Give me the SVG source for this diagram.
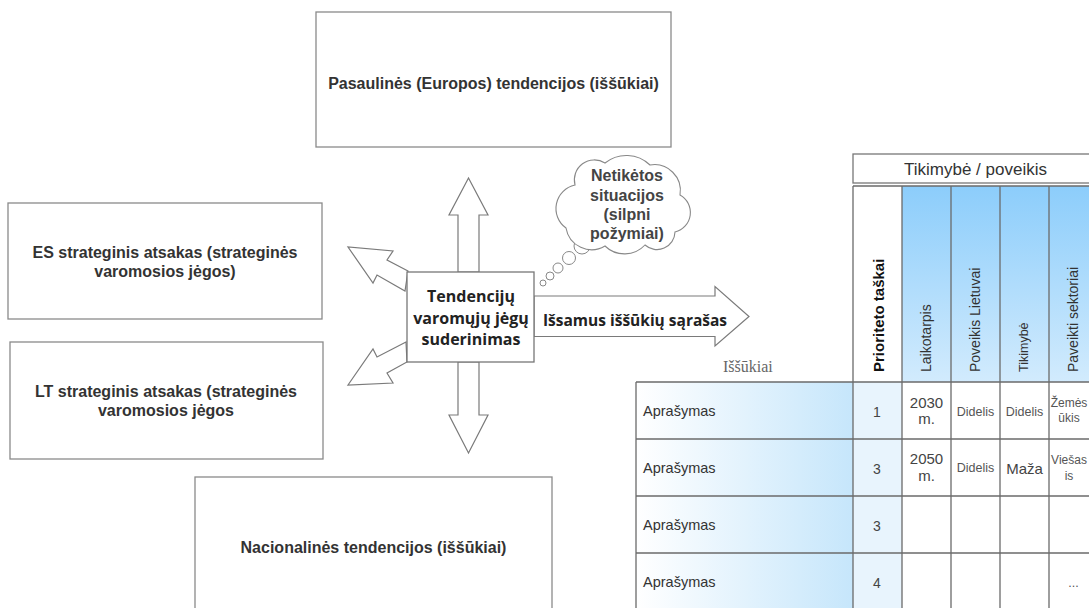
<svg xmlns="http://www.w3.org/2000/svg" width="1089" height="608" viewBox="0 0 1089 608">
<defs>
<linearGradient id="hdrGrad" x1="0" y1="0" x2="0" y2="1">
<stop offset="0" stop-color="#8ccdfb"/>
<stop offset="1" stop-color="#d2ebfd"/>
</linearGradient>
<linearGradient id="descGrad" x1="0" y1="0" x2="1" y2="0">
<stop offset="0" stop-color="#ffffff"/>
<stop offset="1" stop-color="#c6e6fb"/>
</linearGradient>
</defs>
<style>
.box{fill:#fff;stroke:#8a8a8a;stroke-width:1.3}
.arrow{fill:#fff;stroke:#7a7a7a;stroke-width:1.2;stroke-linejoin:miter}
.bt{font-family:"Liberation Sans",Arial,sans-serif;font-weight:bold;font-size:16px;fill:#333;text-anchor:middle}
.ct{font-family:"Open Sans",sans-serif;font-weight:bold;font-size:16px;fill:#222;text-anchor:middle}
.cl{font-family:"Liberation Sans",Arial,sans-serif;font-weight:bold;font-size:16px;fill:#444;text-anchor:middle}
.tl{fill:none;stroke:#6b6b6b;stroke-width:1.3}
.vt{font-family:"Liberation Sans",Arial,sans-serif;font-size:14px;fill:#333}
.td{font-family:"Liberation Sans",Arial,sans-serif;font-size:14.5px;fill:#333}
.tc{font-family:"Liberation Sans",Arial,sans-serif;font-size:14px;fill:#444;text-anchor:middle}
.ts{font-family:"Liberation Sans",Arial,sans-serif;font-size:12.5px;fill:#555;text-anchor:middle}
</style>
<rect width="1089" height="608" fill="#fff"/>

<g id="connectors">
<polygon class="arrow" points="458,272 458,215 449,215 468.5,178 488,215 479,215 479,272"/>
<polygon class="arrow" points="458,362 458,415 449,415 468.5,453 488,415 479,415 479,362"/>
<polygon class="arrow" points="534,296 715,296 715,286.5 749,316.5 715,346 715,336.5 534,336.5"/>
<polygon class="arrow" points="408,271 387,260 393,251 348,247 373,283 377,275 405,291"/>
<polygon class="arrow" points="406,342 377,357 373,349 348,385 393,383 387,373 407,362"/>
<text class="ct" x="635" y="326" style="font-size:15.5px">Išsamus iššūkių sąrašas</text>
</g>

<g id="n-global">
<rect class="box" x="316" y="12" width="355" height="135"/>
<text class="bt" x="493.5" y="89">Pasaulinės (Europos) tendencijos (iššūkiai)</text>
</g>

<g id="n-es">
<rect class="box" x="8" y="203" width="314" height="116"/>
<text class="bt" x="165" y="258">ES strateginis atsakas (strateginės</text>
<text class="bt" x="165" y="277">varomosios jėgos)</text>
</g>

<g id="n-lt">
<rect class="box" x="10" y="342" width="313" height="117"/>
<text class="bt" x="166" y="397">LT strateginis atsakas (strateginės</text>
<text class="bt" x="166" y="416">varomosios jėgos</text>
</g>

<g id="n-national">
<rect class="box" x="195" y="477" width="357" height="140"/>
<text class="bt" x="373.5" y="553">Nacionalinės tendencijos (iššūkiai)</text>
</g>

<g id="n-center">
<rect class="box" x="407" y="272" width="127" height="90" style="stroke:#777"/>
<text class="ct" x="471" y="302">Tendencijų</text>
<text class="ct" x="471" y="323.5">varomųjų jėgų</text>
<text class="ct" x="471" y="345">suderinimas</text>
</g>

<g id="n-cloud">
<circle class="box" cx="543" cy="283" r="3" style="stroke:#888;stroke-width:1"/>
<circle class="box" cx="550" cy="276" r="4" style="stroke:#888;stroke-width:1"/>
<circle class="box" cx="558" cy="268" r="5" style="stroke:#888;stroke-width:1"/>
<circle class="box" cx="569" cy="258" r="6.5" style="stroke:#888;stroke-width:1"/>
<circle class="box" cx="582" cy="246" r="8" style="stroke:#888;stroke-width:1"/>
<path class="box" style="stroke:#888;stroke-width:1.1" d="M566,228 A24,24 0 0 1 575,185 A20,20 0 0 1 605,163 A34,34 0 0 1 650,165 A26,26 0 0 1 680,195 A20,20 0 0 1 675,232 A18,18 0 0 1 645,245 A28,28 0 0 1 605,246 A26,26 0 0 1 566,228 Z"/>
<text class="cl" x="627" y="181">Netikėtos</text>
<text class="cl" x="627" y="201">situacijos</text>
<text class="cl" x="627" y="220">(silpni</text>
<text class="cl" x="627" y="239">požymiai)</text>
</g>

<g id="n-table">
<rect x="853" y="154" width="245" height="29" fill="#fff" stroke="#777" stroke-width="1.3"/>
<text x="975.5" y="174.5" style="font-family:'Liberation Sans',Arial,sans-serif;font-size:17px;fill:#333;text-anchor:middle">Tikimybė / poveikis</text>

<rect x="853" y="186" width="49" height="196" fill="#fff"/>
<rect x="902" y="186" width="196" height="196" fill="url(#hdrGrad)"/>
<rect x="636" y="382" width="217" height="57" fill="url(#descGrad)"/>
<rect x="636" y="439" width="217" height="57" fill="url(#descGrad)"/>
<rect x="636" y="496" width="217" height="57" fill="url(#descGrad)"/>
<rect x="636" y="553" width="217" height="60" fill="url(#descGrad)"/>
<rect x="853" y="382" width="49" height="231" fill="#e8f4fd"/>

<path class="tl" d="M853,186 H1098 M853,186 V613 M902,186 V613 M951,186 V613 M1000,186 V613 M1049,186 V613 M636,382 H1098 M636,382 V613 M636,439 H1098 M636,496 H1098 M636,553 H1098"/>

<text x="884" y="372" transform="rotate(-90 884 372)" style="font-family:'Liberation Sans',Arial,sans-serif;font-weight:bold;font-size:15px;fill:#111">Prioriteto taškai</text>
<text class="vt" x="931" y="372" transform="rotate(-90 931 372)">Laikotarpis</text>
<text class="vt" x="980" y="372" transform="rotate(-90 980 372)">Poveikis Lietuvai</text>
<text class="vt" x="1028" y="372" transform="rotate(-90 1028 372)" style="font-size:12.5px">Tikimybė</text>
<text class="vt" x="1078" y="372" transform="rotate(-90 1078 372)">Paveikti sektoriai</text>

<text x="723" y="372" style="font-family:'Liberation Serif','Times New Roman',serif;font-size:16px;fill:#666">Iššūkiai</text>

<text class="td" x="643" y="416">Aprašymas</text>
<text class="td" x="643" y="473">Aprašymas</text>
<text class="td" x="643" y="530">Aprašymas</text>
<text class="td" x="643" y="587">Aprašymas</text>

<text class="tc" x="877" y="417">1</text>
<text class="tc" x="877" y="474">3</text>
<text class="tc" x="877" y="531">3</text>
<text class="tc" x="877" y="588">4</text>

<text class="tc" x="926.5" y="408" style="font-size:15px">2030</text>
<text class="tc" x="926.5" y="424" style="font-size:15px">m.</text>
<text class="tc" x="926.5" y="464" style="font-size:15px">2050</text>
<text class="tc" x="926.5" y="481" style="font-size:15px">m.</text>

<text class="ts" x="975.5" y="416">Didelis</text>
<text class="ts" x="1024.5" y="416">Didelis</text>
<text class="ts" x="975.5" y="472">Didelis</text>
<text class="tc" x="1024.5" y="474" style="font-size:15px">Maža</text>

<text class="ts" x="1069" y="407" style="font-size:12px">Žemės</text>
<text class="ts" x="1069" y="422" style="font-size:12px">ūkis</text>
<text class="ts" x="1069" y="464" style="font-size:12px">Viešas</text>
<text class="ts" x="1069" y="480" style="font-size:12px">is</text>
<text class="ts" x="1073.5" y="587">...</text>
</g>
</svg>
